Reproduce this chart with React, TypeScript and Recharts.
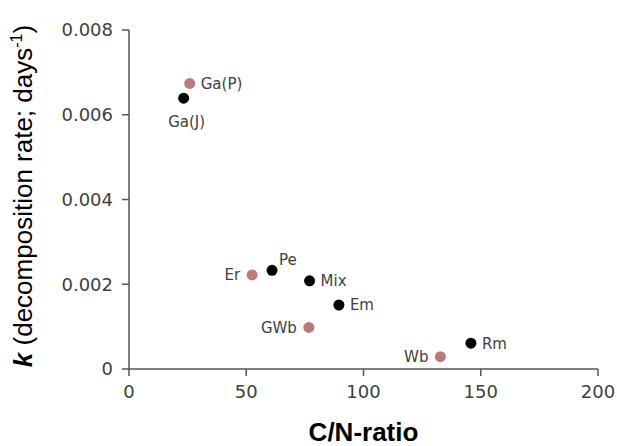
import React from 'react';
import { ScatterChart, Scatter, XAxis, YAxis } from 'recharts';

const blackNames = ['Ga(J)', 'Pe', 'Mix', 'Em', 'Rm'];
const blackCN = [23.3, 61.0, 77.0, 89.5, 145.8];
const blackK = [0.00639, 0.00233, 0.00208, 0.00151, 0.00061];

const pinkNames = ['Ga(P)', 'Er', 'GWb', 'Wb'];
const pinkCN = [25.9, 52.5, 76.7, 132.8];
const pinkK = [0.00674, 0.00222, 0.00098, 0.00029];

const xTicks = [0, 50, 100, 150, 200];
const yTicks = [0, 0.002, 0.004, 0.006, 0.008];

const labelSide: Record<string, string> = {
  'Ga(P)': 'right',
  'Ga(J)': 'below',
  Pe: 'aboveRight',
  Er: 'left',
  Mix: 'right',
  Em: 'right',
  GWb: 'left',
  Wb: 'left',
  Rm: 'right',
};

const build = (names: string[], xs: number[], ys: number[]) =>
  names.map((n, i) => ({ name: n, x: xs[i], y: ys[i] }));

const blackData = build(blackNames, blackCN, blackK);
const pinkData = build(pinkNames, pinkCN, pinkK);

const AXIS = '#555555';
const TXT = '#404040';
const PINK = '#BA7B7E';
const TICK_FONT = "'DejaVu Sans', Verdana, sans-serif";
const TITLE_FONT = "'Liberation Sans', Arial, sans-serif";

const makeShape = (fill: string) => (props: any) => {
  const { cx, cy, payload } = props;
  const name = payload?.name ?? '';
  const side = labelSide[name] || 'right';
  let tx = cx + 11;
  let ty = cy;
  let anchor: 'start' | 'end' | 'middle' = 'start';
  if (side === 'left') {
    tx = cx - 12;
    anchor = 'end';
  } else if (side === 'below') {
    tx = cx + 3;
    ty = cy + 23;
    anchor = 'middle';
  } else if (side === 'aboveRight') {
    tx = cx + 7;
    ty = cy - 11;
  }
  return (
    <g>
      <circle cx={cx} cy={cy} r={5.5} fill={fill} />
      <text
        x={tx}
        y={ty}
        dy="0.36em"
        textAnchor={anchor}
        fontFamily={TICK_FONT}
        fontSize={15}
        fill={TXT}
      >
        {name}
      </text>
    </g>
  );
};

const XTitle = (props: any) => {
  const vb = props.viewBox || {};
  const cx = vb.x + vb.width / 2;
  return (
    <text
      x={cx}
      y={441}
      textAnchor="middle"
      fontFamily={TITLE_FONT}
      fontWeight="bold"
      fontSize={26}
      fill="#000"
    >
      C/N-ratio
    </text>
  );
};

const YTitle = () => {
  const x = 32;
  const y = 196;
  return (
    <text
      x={x}
      y={y}
      transform={`rotate(-90, ${x}, ${y})`}
      textAnchor="middle"
      fontFamily={TITLE_FONT}
      fontSize={26}
      fill="#000"
    >
      <tspan fontStyle="italic" fontWeight="bold">k</tspan>
      <tspan> (decomposition rate; days</tspan>
      <tspan dy={-10} fontSize={16}>-1</tspan>
      <tspan dy={10}>)</tspan>
    </text>
  );
};

export default function App() {
  return (
    <div style={{ position: 'absolute', left: 0, top: 0, width: 617, height: 446, background: '#fff' }}>
      <ScatterChart width={617} height={446} margin={{ top: 30, right: 19, bottom: 47, left: 0 }}>
        <XAxis
          type="number"
          dataKey="x"
          domain={[0, 200]}
          ticks={xTicks}
          interval={0}
          height={30}
          axisLine={{ stroke: AXIS, strokeWidth: 1.5 }}
          tickLine={{ stroke: AXIS, strokeWidth: 1.5 }}
          tickSize={7}
          tickMargin={9}
          tick={{ fill: TXT, fontSize: 18, fontFamily: TICK_FONT }}
          label={<XTitle />}
        />
        <YAxis
          type="number"
          dataKey="y"
          domain={[0, 0.008]}
          ticks={yTicks}
          interval={0}
          width={129}
          axisLine={{ stroke: AXIS, strokeWidth: 1.5 }}
          tickLine={{ stroke: AXIS, strokeWidth: 1.5 }}
          tickSize={7}
          tickMargin={9}
          tick={{ fill: TXT, fontSize: 18, fontFamily: TICK_FONT }}
          tickFormatter={(v: number) => (v === 0 ? '0' : v.toFixed(3))}
          label={<YTitle />}
        />
        <Scatter data={blackData} fill="#000" shape={makeShape('#000')} isAnimationActive={false} />
        <Scatter data={pinkData} fill={PINK} shape={makeShape(PINK)} isAnimationActive={false} />
      </ScatterChart>
    </div>
  );
}
